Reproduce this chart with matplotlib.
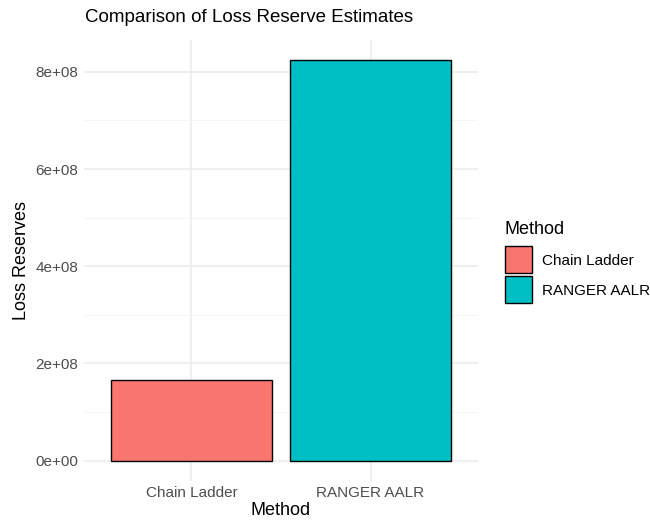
import matplotlib

matplotlib.use("Agg")

import matplotlib.pyplot as plt
from matplotlib.patches import Patch

methods = ["Chain Ladder", "RANGER AALR"]
reserves = [1.655e8, 8.25e8]
colors = ["#F8766D", "#00BFC4"]
y_ticks = [0, 2e8, 4e8, 6e8, 8e8]
y_tick_labels = ["0e+00", "2e+08", "4e+08", "6e+08", "8e+08"]

plt.rcParams["font.family"] = ["Liberation Sans", "DejaVu Sans"]

fig = plt.figure(figsize=(6.5, 5.28), dpi=100)
ax = fig.add_axes([84 / 650, 47.3 / 528, 394 / 650, 441 / 528])

x = list(range(1, len(methods) + 1))
ax.bar(x, reserves, width=0.9, color=colors, edgecolor="black", linewidth=1.0, zorder=3)

top = max(reserves)
ax.set_xlim(0.4, len(methods) + 0.6)
ax.set_ylim(-0.05 * top, top * 1.05)
ax.set_xticks(x)
ax.set_xticklabels(methods)
ax.set_yticks(y_ticks)
ax.set_yticklabels(y_tick_labels)
ax.set_yticks([1e8, 3e8, 5e8, 7e8], minor=True)

for s in ax.spines.values():
    s.set_visible(False)
ax.grid(True, which="major", color="#EBEBEB", linewidth=1.1, zorder=0)
ax.grid(True, which="minor", axis="y", color="#F2F2F2", linewidth=0.6, zorder=0)
ax.tick_params(axis="both", which="both", length=0, labelsize=11, labelcolor="#4D4D4D", pad=4)
ax.set_axisbelow(True)

ax.set_xlabel("Method", fontsize=13, labelpad=1)
ax.set_ylabel("Loss Reserves", fontsize=13, labelpad=4)
fig.text(85 / 650, 1 - 18 / 528, "Comparison of Loss Reserve Estimates",
         fontsize=13.5, ha="left", va="center")

handles = [Patch(facecolor=c, edgecolor="black", linewidth=1.0) for c in colors]
leg = fig.legend(handles, methods, title="Method", loc="upper left",
                 bbox_to_anchor=(505 / 650, 1 - 221 / 528), frameon=False,
                 fontsize=11, title_fontsize=13, handlelength=1.77, handleheight=2.34,
                 labelspacing=0.2, handletextpad=0.65, borderaxespad=0, borderpad=0)
leg._legend_box.align = "left"
leg._legend_box.sep = 6

fig.savefig("out.png", dpi=100)
